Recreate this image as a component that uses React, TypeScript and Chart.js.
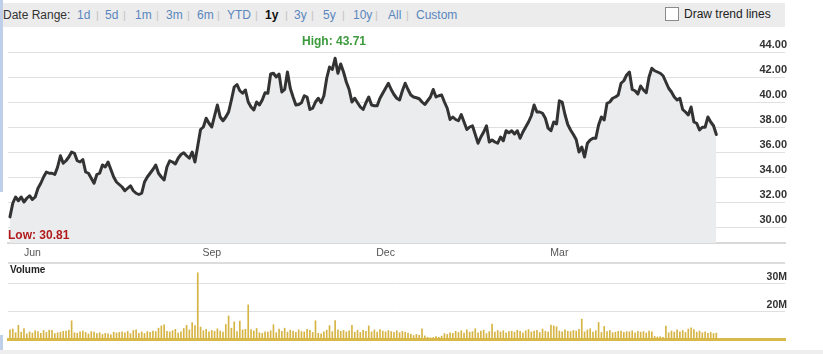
import React, { useEffect, useRef } from "react";
import { Chart, registerables } from "chart.js";

Chart.register(...registerables);

// Daily closing prices, one trading year (late May -> mid May)
const prices: number[] = [
  30.81, 31.9, 32.4, 32.1, 32.4, 32.0, 32.3, 32.5, 32.2, 32.4,
  33.1, 33.5, 34.0, 34.4, 34.3, 34.3, 34.2, 34.8, 35.7, 35.1,
  35.3, 35.6, 36.0, 35.9, 35.3, 35.2, 35.4, 34.4, 34.3, 33.9,
  33.5, 34.2, 34.3, 34.96, 34.8, 35.2, 34.6, 34.0, 33.6, 33.4,
  33.2, 32.9, 33.1, 33.3, 32.9, 32.7, 32.6, 32.7, 33.6, 34.0,
  34.3, 34.6, 34.96, 34.3, 34.0, 33.76, 34.8, 35.3, 35.2, 35.04,
  35.5, 35.8, 35.94, 35.7, 35.5, 36.0, 35.2, 36.5, 37.8, 38.0,
  38.7, 38.3, 38.0, 38.9, 39.76, 38.8, 38.5, 38.8, 39.2, 40.16,
  41.2, 41.4, 40.9, 40.7, 40.96, 40.0, 39.6, 39.36, 40.0, 39.76,
  40.16, 40.74, 40.7, 42.24, 42.3, 42.0, 42.24, 40.8, 41.0, 42.4,
  41.1, 40.4, 39.76, 39.8, 39.94, 40.5, 40.4, 39.4, 39.5, 40.0,
  40.3, 39.94, 40.5, 41.9, 42.8, 42.6, 43.5, 42.3, 43.04, 42.4,
  41.6, 41.0, 40.0, 40.3, 39.94, 39.6, 39.4, 39.94, 40.4, 39.76,
  39.7, 39.7, 40.3, 40.7, 41.1, 41.5, 41.0, 40.6, 40.3, 40.16,
  40.9, 41.5, 41.0, 40.56, 40.4, 40.34, 40.26, 40.0, 39.8, 40.1,
  40.4, 41.0, 40.4, 40.5, 40.56, 40.0, 39.5, 38.6, 38.8, 38.6,
  38.5, 39.0, 38.4, 37.8, 38.0, 38.1, 37.4, 36.7, 37.2, 37.6,
  38.1, 36.8, 36.96, 36.8, 36.7, 37.2, 36.9, 37.7, 37.54, 37.7,
  37.44, 37.7, 37.1, 37.6, 38.0, 38.4, 38.9, 39.76, 39.2, 39.2,
  39.1, 38.7, 37.9, 37.7, 38.4, 38.24, 40.1, 40.0, 39.0, 38.2,
  37.76, 37.4, 37.0, 36.0, 36.4, 35.6, 36.7, 36.96, 37.1, 37.1,
  38.16, 38.8, 38.56, 39.9, 40.0, 40.3, 40.4, 40.56, 41.5, 41.7,
  42.16, 42.4, 41.0, 40.9, 40.64, 41.28, 40.96, 40.74, 42.0, 42.7,
  42.5, 42.4, 42.3, 42.1, 41.6, 41.1, 40.8, 40.4, 40.16, 40.3,
  39.4, 39.2, 38.96, 39.6, 38.4, 38.3, 37.76, 37.98, 37.98, 38.8,
  38.4, 38.1, 37.4,
];

// Daily volume, millions of shares
const volumes: number[] = [
  13.6, 13.9, 12.6, 15.2, 12.8, 14.1, 12.2, 12.9, 12.5, 13.3,
  13.0, 12.4, 13.4, 12.7, 13.5, 13.4, 12.3, 12.6, 12.8, 13.1,
  13.2, 13.5, 16.8, 12.6, 12.4, 12.9, 13.2, 12.7, 12.2, 13.0,
  12.8, 12.3, 12.6, 12.0, 12.4, 12.2, 11.9, 12.8, 12.5, 12.7,
  12.9, 12.6, 13.1, 12.3, 13.4, 13.6, 12.4, 12.9, 12.3, 13.0,
  12.7, 13.2, 13.0, 14.2, 15.0, 15.4, 13.1, 12.9, 13.3, 13.8,
  12.5, 12.9, 14.1, 15.2, 13.6, 16.2, 15.1, 33.7, 14.6, 13.3,
  13.8, 12.9, 13.4, 13.1, 14.0, 13.2, 12.8, 15.5, 18.5, 14.2,
  16.4, 13.0, 16.7, 13.6, 13.8, 22.4, 13.7, 13.2, 14.1, 12.6,
  12.4, 12.9, 12.8, 13.3, 15.4, 12.6, 13.9, 13.1, 14.2, 12.8,
  13.5, 13.2, 12.7, 13.6, 13.0, 12.9, 13.8, 13.4, 12.7, 16.8,
  12.4, 12.2, 12.9, 13.5, 15.1, 13.0, 16.9, 13.6, 13.1, 13.4,
  12.9, 13.3, 15.2, 12.8, 13.5, 12.7, 13.4, 13.1, 15.0, 12.9,
  13.6, 12.8, 13.7, 13.2, 12.9, 13.4, 13.0, 12.7, 13.3, 12.6,
  13.1, 12.8, 12.5, 12.1, 11.6, 12.0, 11.7, 14.0, 11.5, 11.0,
  10.8, 10.9, 11.2, 11.0, 11.4, 12.3, 12.0, 12.6, 12.4, 13.1,
  12.7, 13.3, 12.5, 13.6, 12.8, 13.0, 14.0, 12.6, 13.2, 13.5,
  12.3, 13.0, 15.6, 12.8, 13.4, 12.9, 13.3, 12.6, 13.0, 13.1,
  12.8, 13.5, 13.1, 12.6, 13.3, 13.7, 12.9, 13.2, 13.4, 12.7,
  13.9, 13.1, 12.8, 15.3, 15.0, 14.7, 13.2, 12.9, 13.6, 13.1,
  13.0, 13.4, 13.2, 13.8, 17.4, 12.9, 13.6, 14.0, 12.8, 13.3,
  16.2, 12.7, 14.8, 13.0, 13.4, 12.6, 12.8, 13.1, 13.2, 12.7,
  13.0, 12.9, 13.3, 12.6, 13.1, 12.8, 13.0, 12.5, 13.2, 12.9,
  11.3, 11.1, 11.2, 11.0, 14.9, 12.6, 13.2, 12.8, 13.6, 12.9,
  13.4, 12.7, 13.9, 14.3, 13.7, 12.8, 13.2, 12.6, 12.9, 12.4,
  12.7, 12.3, 12.5,
];

// Month tick labels and the trading-day index they sit at
const monthLabels: string[] = ["Jun", "Sep", "Dec", "Mar"];
const monthTickIndex: number[] = [8, 72, 134, 196];

const priceTicks: number[] = [30, 32, 34, 36, 38, 40, 42, 44];
const volumeTicks: number[] = [20, 30];

const rangeOptions: string[] = ["1d", "5d", "1m", "3m", "6m", "YTD", "1y", "3y", "5y", "10y", "All", "Custom"];
const rangeLeft: number[] = [77, 105, 135, 166, 197, 227, 265, 294, 323, 353, 388, 416];
const separatorLeft: number[] = [96, 123, 156, 187, 217, 255, 285, 311, 342, 375, 406];

const highLabel = "High: 43.71";
const lowLabel = "Low: 30.81";

const FONT = '"Liberation Sans", Arial, Helvetica, sans-serif';
const X_MIN = -0.7;
const X_MAX = 276.5;

// price axis range and the label axis shifted so labels sit 7px above their grid line
const P_MIN = 28.72;
const P_MAX = 45.52;
const P_SHIFT = 0.56;
// volume axis range (millions) and label shift (~6.5px)
const V_MIN = 10.39;
const V_MAX = 36.8;
const V_SHIFT = 2.3;

// remove label-driven padding so the plot area is exactly where the layout puts it
const zeroPad = (axis: any) => {
  axis.paddingTop = 0;
  axis.paddingBottom = 0;
  axis.paddingLeft = 0;
  axis.paddingRight = 0;
};

export default function App() {
  const priceRef = useRef<HTMLCanvasElement | null>(null);
  const volRef = useRef<HTMLCanvasElement | null>(null);

  useEffect(() => {
    const priceCanvas = priceRef.current!;
    const volCanvas = volRef.current!;

    const priceChart = new Chart(priceCanvas, {
      type: "line",
      data: {
        datasets: [
          {
            data: prices.map((v, i) => ({ x: i, y: v })),
            yAxisID: "y",
            borderColor: "#333333",
            borderWidth: 3,
            borderJoinStyle: "round",
            borderCapStyle: "round",
            pointRadius: 0,
            tension: 0,
            fill: "start",
            backgroundColor: "#ebecee",
          },
        ],
      },
      options: {
        animation: false,
        responsive: false,
        maintainAspectRatio: false,
        layout: { padding: { left: 8, right: 36, top: 5, bottom: 0 } },
        plugins: { legend: { display: false }, tooltip: { enabled: false } },
        scales: {
          x: {
            type: "linear",
            min: X_MIN,
            max: X_MAX,
            grid: { display: false, drawTicks: false },
            border: { display: true, color: "#d8d8d8", width: 2 },
            afterBuildTicks: (axis: any) => {
              axis.ticks = monthTickIndex.map((v) => ({ value: v }));
            },
            afterFit: (axis: any) => {
              zeroPad(axis);
              axis.height = 20;
            },
            ticks: {
              autoSkip: false,
              maxRotation: 0,
              padding: 4,
              color: "#555555",
              font: { family: FONT, size: 10.5 },
              callback: (_v: any, index: number) => monthLabels[index],
            },
          },
          y: {
            position: "right",
            min: P_MIN,
            max: P_MAX,
            afterBuildTicks: (axis: any) => {
              axis.ticks = priceTicks.map((v) => ({ value: v }));
            },
            afterFit: (axis: any) => {
              zeroPad(axis);
              axis.width = 0;
            },
            grid: { color: "#e0e0e0", lineWidth: 1, drawTicks: false },
            border: { display: false },
            ticks: { display: false },
          },
          yl: {
            position: "right",
            min: P_MIN - P_SHIFT,
            max: P_MAX - P_SHIFT,
            afterBuildTicks: (axis: any) => {
              axis.ticks = priceTicks.map((v) => ({ value: v }));
            },
            afterFit: (axis: any) => {
              zeroPad(axis);
              axis.width = 2;
            },
            grid: { display: false, drawTicks: false },
            border: { display: false },
            ticks: {
              mirror: true,
              padding: 2,
              color: "#333333",
              font: { family: FONT, size: 11, weight: "bold" },
              callback: (v: any) => Number(v).toFixed(2),
            },
          },
        },
      },
    } as any);

    const volChart = new Chart(volCanvas, {
      type: "bar",
      data: {
        datasets: [
          {
            data: volumes.map((v, i) => ({ x: i, y: v })),
            yAxisID: "y",
            backgroundColor: "#d6b444",
            barThickness: 1,
            borderWidth: 0,
          },
        ],
      },
      options: {
        animation: false,
        responsive: false,
        maintainAspectRatio: false,
        layout: { padding: { left: 8, right: 36, top: 1, bottom: 11 } },
        plugins: { legend: { display: false }, tooltip: { enabled: false } },
        scales: {
          x: {
            type: "linear",
            min: X_MIN,
            max: X_MAX,
            offset: false,
            grid: { display: false, drawTicks: false },
            border: { display: true, color: "#d8b94c", width: 3 },
            ticks: { display: false },
            afterFit: (axis: any) => {
              zeroPad(axis);
              axis.height = 0;
            },
          },
          y: {
            position: "right",
            min: V_MIN,
            max: V_MAX,
            afterBuildTicks: (axis: any) => {
              axis.ticks = volumeTicks.map((v) => ({ value: v }));
            },
            afterFit: (axis: any) => {
              zeroPad(axis);
              axis.width = 0;
            },
            grid: { color: "#e0e0e0", lineWidth: 1, drawTicks: false },
            border: { display: false },
            ticks: { display: false },
          },
          yl: {
            position: "right",
            min: V_MIN - V_SHIFT,
            max: V_MAX - V_SHIFT,
            afterBuildTicks: (axis: any) => {
              axis.ticks = volumeTicks.map((v) => ({ value: v }));
            },
            afterFit: (axis: any) => {
              zeroPad(axis);
              axis.width = 2;
            },
            grid: { display: false, drawTicks: false },
            border: { display: false },
            ticks: {
              mirror: true,
              padding: 2,
              color: "#333333",
              font: { family: FONT, size: 10.5, weight: "bold" },
              callback: (v: any) => `${v}M`,
            },
          },
        },
      },
    } as any);

    return () => {
      priceChart.destroy();
      volChart.destroy();
    };
  }, []);

  const abs = (extra: React.CSSProperties): React.CSSProperties => ({
    position: "absolute",
    ...extra,
  });

  return (
    <div
      style={{
        position: "absolute",
        left: 0,
        top: 0,
        width: 823,
        height: 354,
        background: "#ffffff",
        overflow: "hidden",
        fontFamily: FONT,
      }}
    >
      {/* toolbar */}
      <div style={abs({ left: 0, top: 3, width: 785, height: 24, background: "#ececec" })} />
      <span style={abs({ left: 3, top: 8, fontSize: 12, lineHeight: "14px", color: "#333" })}>Date Range:</span>
      {rangeOptions.map((r, i) => (
        <span
          key={r}
          style={abs({
            left: rangeLeft[i],
            top: 8,
            fontSize: 12,
            lineHeight: "14px",
            color: r === "1y" ? "#111" : "#5a86bd",
            fontWeight: r === "1y" ? "bold" : "normal",
          })}
        >
          {r}
        </span>
      ))}
      {separatorLeft.map((x, i) => (
        <span key={i} style={abs({ left: x, top: 8, fontSize: 11, lineHeight: "14px", color: "#c4c4c4" })}>
          |
        </span>
      ))}
      <div
        style={abs({
          left: 665,
          top: 7,
          width: 12,
          height: 12,
          border: "1px solid #8a8a8a",
          background: "#ffffff",
        })}
      />
      <span style={abs({ left: 684, top: 7, fontSize: 12, lineHeight: "14px", color: "#222" })}>Draw trend lines</span>

      {/* price chart */}
      <canvas ref={priceRef} width={823} height={235} style={abs({ left: 0, top: 28, width: 823, height: 235, display: "block" })} />
      <span style={abs({ left: 302, top: 34, fontSize: 12, lineHeight: "14px", color: "#3c9a3c", fontWeight: "bold" })}>
        {highLabel}
      </span>
      <span style={abs({ left: 8, top: 228, fontSize: 12, lineHeight: "14px", color: "#b01c1c", fontWeight: "bold" })}>
        {lowLabel}
      </span>

      {/* divider */}
      <div style={abs({ left: 8, top: 262, width: 777, height: 2, background: "#dcdcdc" })} />

      {/* volume chart */}
      <canvas ref={volRef} width={823} height={87} style={abs({ left: 0, top: 263, width: 823, height: 87, display: "block" })} />
      <span style={abs({ left: 10, top: 264, fontSize: 10, lineHeight: "12px", color: "#222", fontWeight: "bold" })}>Volume</span>

      {/* bottom band and left strip */}
      <div style={abs({ left: 0, top: 350, width: 823, height: 4, background: "#eeeeee" })} />
      <div style={abs({ left: 0, top: 0, width: 3, height: 192, background: "#bfcfea" })} />
      <div style={abs({ left: 0, top: 335, width: 3, height: 15, background: "#bfcfea" })} />
    </div>
  );
}
